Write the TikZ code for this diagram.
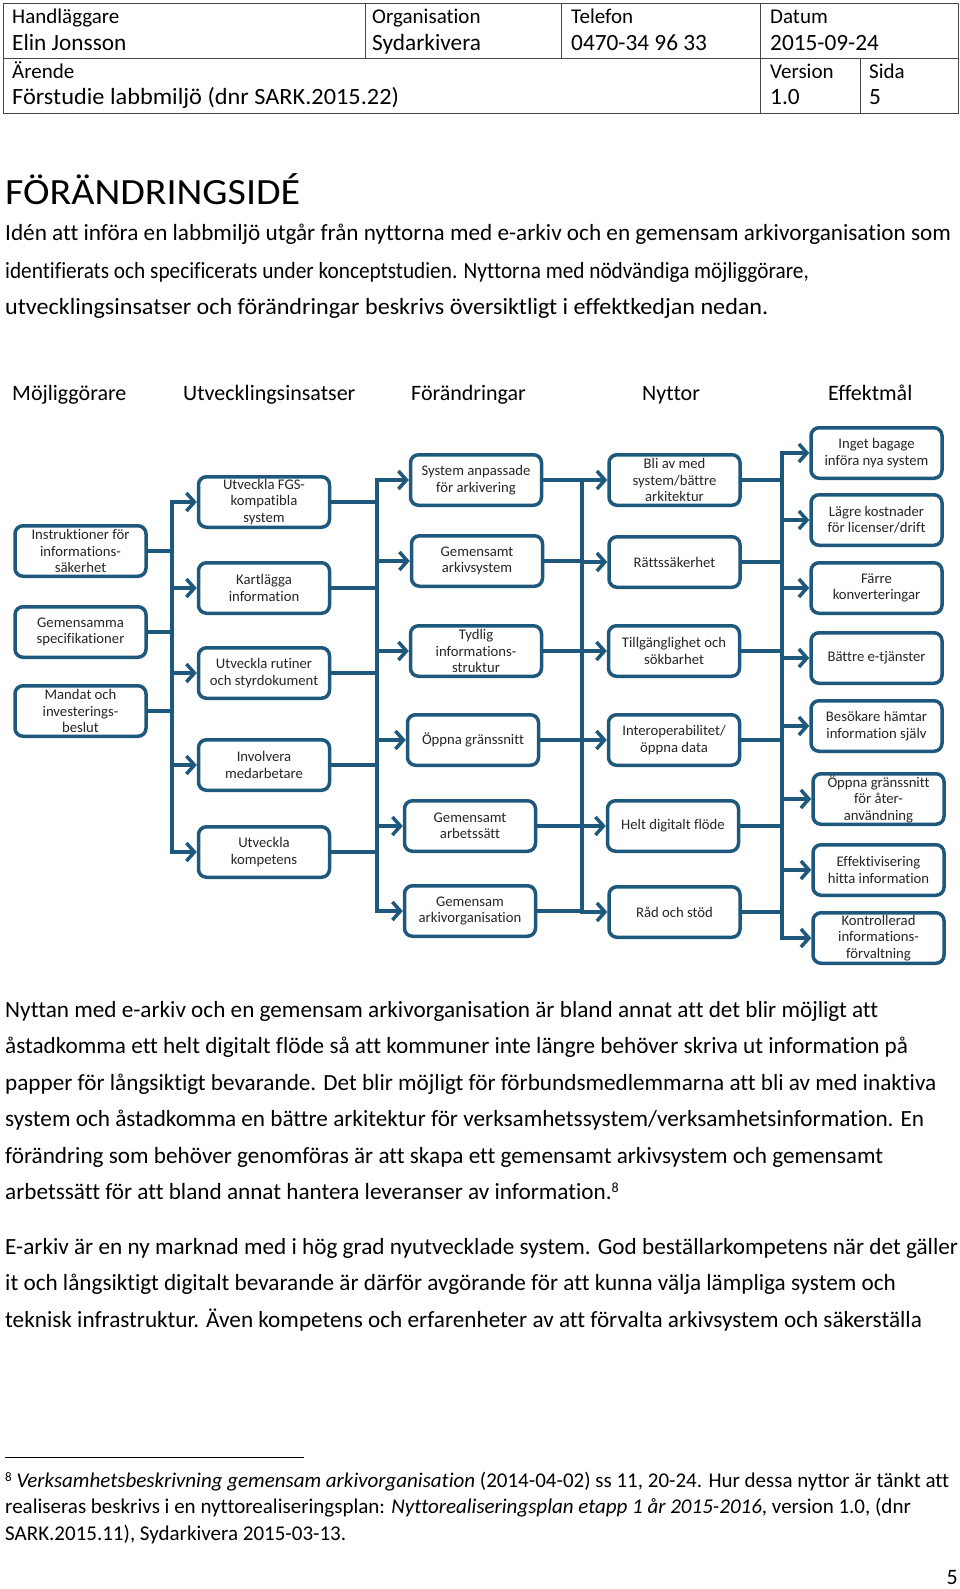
\documentclass[tikz,border=0pt]{standalone}
\usepackage{fontspec}
\setmainfont{Carlito}[Ligatures=NoCommon]
\usetikzlibrary{arrows.meta}
\definecolor{chartblue}{RGB}{30,88,124}
\definecolor{tablegray}{RGB}{70,70,70}
\definecolor{boxtext}{RGB}{38,38,38}
\begin{document}
\begin{tikzpicture}[x=1pt,y=-1pt,
  bx/.style={draw=chartblue, line width=3.5pt, rounded corners=8pt, align=center,
    inner sep=1pt, minimum width=131pt, minimum height=50.5pt,
    font=\fontsize{14.7}{16.4}\selectfont, text=boxtext},
  conn/.style={draw=chartblue, line width=3.5pt, line cap=rect},
  arr/.style={draw=chartblue, line width=3.5pt, -{Straight Barb[length=8pt,width=18pt]}},
  body/.style={anchor=base west, inner sep=0pt, font=\fontsize{23.2}{27}\selectfont},
  hdr/.style={anchor=base west, inner sep=0pt, font=\fontsize{21}{25}\selectfont},
  hval/.style={anchor=base west, inner sep=0pt, font=\fontsize{23.3}{27}\selectfont},
  colhead/.style={anchor=base west, inner sep=0pt, font=\fontsize{22}{26}\selectfont},
  fnote/.style={anchor=base west, inner sep=0pt, font=\fontsize{21}{25}\selectfont},
  tbl/.style={draw=tablegray, line width=0.9pt}
]
\useasboundingbox (0,0) rectangle (960,1589);
\fill[white] (0,0) rectangle (960,1589);

% ---------- header table ----------
\draw[tbl] (3,3) rectangle (958,113);
\draw[tbl] (3,58) -- (958,58);
\draw[tbl] (365,3) -- (365,58);
\draw[tbl] (561,3) -- (561,58);
\draw[tbl] (760,3) -- (760,113);
\draw[tbl] (860,58) -- (860,113);
\node[hdr] (h1) at (12,24) {Handläggare};
\node[hval] (h2) at (12,51) {Elin Jonsson};
\node[hdr] (h3) at (372,24) {Organisation};
\node[hval] (h4) at (372,51) {Sydarkivera};
\node[hdr] (h5) at (571,24) {Telefon};
\node[hval] (h6) at (571,51) {0470-34 96 33};
\node[hdr] (h7) at (770,24) {Datum};
\node[hval] (h8) at (770,51) {2015-09-24};
\node[hdr] (h9) at (12,79) {Ärende};
\node[hval] (h10) at (12,105) {\scalebox{1.044}[1]{Förstudie labbmiljö (dnr SARK.2015.22)}};
\node[hdr] (h11) at (770,79) {Version};
\node[hval] (h12) at (770,105) {1.0};
\node[hdr] (h13) at (869,79) {Sida};
\node[hval] (h14) at (869,105) {5};

% ---------- heading and intro ----------
\node[anchor=base west, inner sep=0pt, font=\fontsize{37}{44}\selectfont] (title) at (5,205) {\scalebox{1.08}[1]{FÖRÄNDRINGSIDÉ}};
\node[body] (p1a) at (5,241) {Idén att införa en labbmiljö utgår från nyttorna med e-arkiv och en gemensam arkivorganisation som};
\node[body] (p1b) at (5,278) {\scalebox{0.917}[1]{identifierats och specificerats under konceptstudien. Nyttorna med nödvändiga möjliggörare,}};
\node[body] (p1c) at (5,314) {\scalebox{1.04}[1]{utvecklingsinsatser och förändringar beskrivs översiktligt i effektkedjan nedan.}};

% ---------- chart column headers ----------
\node[colhead] (k1) at (12,400) {Möjliggörare};
\node[colhead] (k2) at (183,400) {Utvecklingsinsatser};
\node[colhead] (k3) at (411,400) {Förändringar};
\node[colhead] (k4) at (642,400) {Nyttor};
\node[colhead] (k5) at (828,400) {Effektmål};

% ---------- column 1 ----------
\node[bx] (a1) at (80.5,551) {Instruktioner för\\informations-\\säkerhet};
\node[bx] (a2) at (80.5,632) {Gemensamma\\specifikationer};
\node[bx] (a3) at (80.5,711) {Mandat och\\investerings-\\beslut};
% ---------- column 2 ----------
\node[bx] (b1) at (264,502) {Utveckla FGS-\\kompatibla\\system};
\node[bx] (b2) at (264,588) {Kartlägga\\information};
\node[bx] (b3) at (264,673) {Utveckla rutiner\\och styrdokument};
\node[bx] (b4) at (264,765) {Involvera\\medarbetare};
\node[bx] (b5) at (264,852) {Utveckla\\kompetens};
% ---------- column 3 ----------
\node[bx] (c1) at (476,480) {System anpassade\\för arkivering};
\node[bx] (c2) at (477,561) {Gemensamt\\arkivsystem};
\node[bx] (c3) at (476,651) {Tydlig\\informations-\\struktur};
\node[bx] (c4) at (473,740) {Öppna gränssnitt};
\node[bx] (c5) at (470,826) {Gemensamt\\arbetssätt};
\node[bx] (c6) at (470,911) {Gemensam\\arkivorganisation};
% ---------- column 4 ----------
\node[bx] (d1) at (674.5,480) {Bli av med\\system/bättre\\arkitektur};
\node[bx] (d2) at (674.5,562) {Rättssäkerhet};
\node[bx] (d3) at (674,651) {Tillgänglighet och\\sökbarhet};
\node[bx] (d4) at (674,740) {Interoperabilitet/\\öppna data};
\node[bx] (d5) at (673,826) {Helt digitalt flöde};
\node[bx] (d6) at (674.5,912) {Råd och stöd};
% ---------- column 5 ----------
\node[bx] (e1) at (876.5,453) {Inget bagage\\införa nya system};
\node[bx] (e2) at (876.5,520) {Lägre kostnader\\för licenser/drift};
\node[bx] (e3) at (876.5,588) {Färre\\konverteringar};
\node[bx] (e4) at (876.5,658) {Bättre e-tjänster};
\node[bx] (e5) at (876.5,726) {Besökare hämtar\\information själv};
\node[bx] (e6) at (878.5,799) {Öppna gränssnitt\\för åter-\\användning};
\node[bx] (e7) at (878.5,870) {Effektivisering\\hitta information};
\node[bx] (e8) at (878.5,938) {Kontrollerad\\informations-\\förvaltning};

% ---------- buses ----------
\coordinate (bus1) at (172,0);
\coordinate (bus2) at (377,0);
\coordinate (bus3) at (582,0);
\coordinate (bus4) at (782,0);

\draw[conn] (bus1 |- b1) -- (bus1 |- b5);
\draw[conn] (bus2 |- c1) -- (bus2 |- c6);
\draw[conn] (bus3 |- d1) -- (bus3 |- d6);
\draw[conn] (bus4 |- e1) -- (bus4 |- e8);

\foreach \n in {a1,a2,a3} \draw[conn] (\n.east) -- (\n.east -| bus1);
\foreach \n in {b1,b2,b3,b4,b5} \draw[arr] (bus1 |- \n.west) -- (\n.west);
\foreach \n in {b1,b2,b3,b4,b5} \draw[conn] (\n.east) -- (\n.east -| bus2);
\foreach \n in {c1,c2,c3,c4,c5,c6} \draw[arr] (bus2 |- \n.west) -- (\n.west);
\foreach \n in {c1,c2,c3,c4,c5,c6} \draw[conn] (\n.east) -- (\n.east -| bus3);
\foreach \n in {d1,d2,d3,d4,d5,d6} \draw[arr] (bus3 |- \n.west) -- (\n.west);
\foreach \n in {d1,d2,d3,d4,d5,d6} \draw[conn] (\n.east) -- (\n.east -| bus4);
\foreach \n in {e1,e2,e3,e4,e5,e6,e7,e8} \draw[arr] (bus4 |- \n.west) -- (\n.west);

% ---------- body text ----------
\node[body] (p2a) at (5,1017) {Nyttan med e-arkiv och en gemensam arkivorganisation är bland annat att det blir möjligt att};
\node[body] (p2b) at (5,1053) {åstadkomma ett helt digitalt flöde så att kommuner inte längre behöver skriva ut information på};
\node[body] (p2c) at (5,1090) {papper för långsiktigt bevarande. Det blir möjligt för förbundsmedlemmarna att bli av med inaktiva};
\node[body] (p2d) at (5,1126) {system och åstadkomma en bättre arkitektur för verksamhetssystem/verksamhetsinformation. En};
\node[body] (p2e) at (5,1163) {förändring som behöver genomföras är att skapa ett gemensamt arkivsystem och gemensamt};
\node[body] (p2f) at (5,1199) {arbetssätt för att bland annat hantera leveranser av information.\raisebox{0.6ex}{\fontsize{14}{16}\selectfont 8}};
\node[body] (p3a) at (5,1254) {E-arkiv är en ny marknad med i hög grad nyutvecklade system. God beställarkompetens när det gäller};
\node[body] (p3b) at (5,1290) {it och långsiktigt digitalt bevarande är därför avgörande för att kunna välja lämpliga system och};
\node[body] (p3c) at (5,1327) {teknisk infrastruktur. Även kompetens och erfarenheter av att förvalta arkivsystem och säkerställa};

% ---------- footnote ----------
\draw[black, line width=1pt] (5,1457) -- (304,1457);
\node[fnote] (f1) at (5,1487) {\raisebox{0.6ex}{\fontsize{13}{15}\selectfont 8} \textit{Verksamhetsbeskrivning gemensam arkivorganisation} (2014-04-02) ss 11, 20-24. Hur dessa nyttor är tänkt att};
\node[fnote] (f2) at (5,1513) {realiseras beskrivs i en nyttorealiseringsplan: \textit{Nyttorealiseringsplan etapp 1 år 2015-2016}, version 1.0, (dnr};
\node[fnote] (f3) at (5,1540) {SARK.2015.11), Sydarkivera 2015-03-13.};
\node[anchor=base east, inner sep=0pt, font=\fontsize{22}{26}\selectfont] (pg) at (958,1584) {5};
\end{tikzpicture}
\end{document}
